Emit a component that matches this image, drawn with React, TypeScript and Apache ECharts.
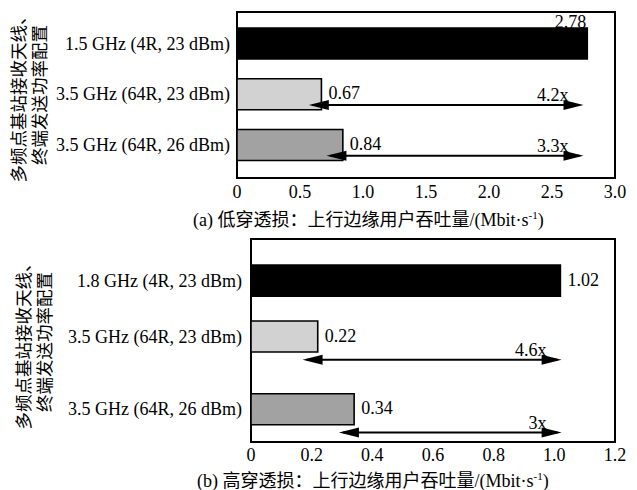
import React, { useEffect, useRef } from "react";
import * as echarts from "echarts";

// ---------- data ----------
const topCategories = ["1.5 GHz (4R, 23 dBm)", "3.5 GHz (64R, 23 dBm)", "3.5 GHz (64R, 26 dBm)"];
const topValues = [2.78, 0.67, 0.84];
const topArrowFrom = [0.57, 0.71];
const topArrowTo = [2.75, 2.75];
const topArrowRows = [1, 2];
const topArrowLabels = ["4.2x", "3.3x"];
const topTitle = "(a) 低穿透损：上行边缘用户吞吐量/(Mbit·s";

const bottomCategories = ["1.8 GHz (4R, 23 dBm)", "3.5 GHz (64R, 23 dBm)", "3.5 GHz (64R, 26 dBm)"];
const bottomValues = [1.02, 0.22, 0.34];
const bottomArrowFrom = [0.17, 0.29];
const bottomArrowTo = [1.024, 1.024];
const bottomArrowRows = [1, 2];
const bottomArrowLabels = ["4.6x", "3x"];
const bottomTitle = "(b) 高穿透损：上行边缘用户吞吐量/(Mbit·s";

const yAxisName = "多频点基站接收天线、\n终端发送功率配置";

// ---------- layout / style ----------
const topRowPos = [0, 1, 2];
const bottomRowPos = [0, 1, 2.3];
const barColors = ["#000000", "#d2d2d2", "#a2a2a2"];
const SERIF = "'Liberation Serif', 'Times New Roman', 'Noto Sans CJK SC', serif";
const MIXED = "'Liberation Serif', 'Noto Sans CJK SC', serif";

function barRender(values: number[], abovePlacement: boolean[]) {
  return (params: any, api: any) => {
    const v = api.value(0);
    const r = api.value(1);
    const idx = api.value(2);
    const p0 = api.coord([0, r]);
    const p1 = api.coord([v, r]);
    const h = 31;
    const label = abovePlacement[idx]
      ? {
          type: "text",
          x: p1[0] - 1,
          y: p0[1] - h / 2 + 3,
          style: { text: v.toFixed(2), fill: "#000", font: `18px ${SERIF}`, align: "right", verticalAlign: "bottom" },
        }
      : {
          type: "text",
          x: p1[0] + 7,
          y: p1[1] - 1,
          style: { text: v.toFixed(2), fill: "#000", font: `18px ${SERIF}`, align: "left", verticalAlign: "middle" },
        };
    return {
      type: "group",
      children: [
        {
          type: "rect",
          shape: { x: p0[0], y: p0[1] - h / 2, width: p1[0] - p0[0], height: h },
          style: { fill: barColors[idx], stroke: "#000", lineWidth: 1.6 },
        },
        label,
      ],
    };
  };
}

function arrowRender(offsetPx: number, labels: string[]) {
  return (params: any, api: any) => {
    const from = api.value(0);
    const to = api.value(1);
    const r = api.value(2);
    const idx = api.value(3);
    const a = api.coord([from, r]);
    const b = api.coord([to, r]);
    const y = a[1] + offsetPx;
    const L = 20;
    const w = 5;
    return {
      type: "group",
      children: [
        { type: "line", shape: { x1: a[0] + 4, y1: y, x2: b[0] - 4, y2: y }, style: { stroke: "#000", lineWidth: 2 } },
        { type: "polygon", shape: { points: [[a[0], y], [a[0] + L, y - w], [a[0] + L, y + w]] }, style: { fill: "#000" } },
        { type: "polygon", shape: { points: [[b[0], y], [b[0] - L, y - w], [b[0] - L, y + w]] }, style: { fill: "#000" } },
        {
          type: "text",
          x: b[0] - 15,
          y: y - 1,
          style: { text: labels[idx], fill: "#000", font: `18px ${SERIF}`, align: "right", verticalAlign: "bottom" },
        },
      ],
    };
  };
}

function xAxisCfg(gridIndex: number, max: number, interval: number, margin: number) {
  return {
    type: "value",
    gridIndex,
    min: 0,
    max,
    interval,
    axisLine: { show: false },
    axisTick: { show: true, inside: true, length: 5, lineStyle: { color: "#000", width: 1.5 } },
    splitLine: { show: false },
    axisLabel: {
      color: "#000",
      fontSize: 18,
      fontFamily: SERIF,
      margin,
      formatter: (v: number) => (v === 0 ? "0" : v.toFixed(1)),
    },
  };
}

function yAxisCfg(gridIndex: number, min: number, max: number, rowPos: number[], cats: string[], margin: number) {
  return {
    type: "value",
    gridIndex,
    inverse: true,
    min,
    max,
    axisLine: { show: false },
    axisTick: { show: false },
    splitLine: { show: false },
    axisLabel: {
      customValues: rowPos,
      color: "#000",
      fontSize: 18,
      fontFamily: SERIF,
      margin,
      formatter: (v: number) => {
        let best = 0;
        rowPos.forEach((p, i) => {
          if (Math.abs(p - v) < Math.abs(rowPos[best] - v)) best = i;
        });
        return cats[best];
      },
    },
  };
}

function titleText(x: number, y: number, text: string) {
  return {
    type: "text",
    x,
    y,
    style: {
      text: `{a|${text}}{s|-1}{a|)}`,
      fill: "#000",
      verticalAlign: "middle",
      rich: {
        a: { fontSize: 18, fontFamily: MIXED, color: "#000", lineHeight: 22 },
        s: { fontSize: 11, fontFamily: SERIF, color: "#000", verticalAlign: "top", lineHeight: 22, padding: [0, 0, 8, 0] },
      },
    },
  };
}

function yNameText(x: number, y: number) {
  return {
    type: "text",
    x,
    y,
    rotation: Math.PI / 2,
    style: {
      text: yAxisName,
      fill: "#000",
      font: `17.5px 'Noto Sans CJK SC', serif`,
      align: "center",
      verticalAlign: "middle",
      lineHeight: 21,
    },
  };
}

export default function App() {
  const ref = useRef<HTMLDivElement>(null);
  useEffect(() => {
    if (!ref.current) return;
    const chart = echarts.init(ref.current, undefined, { renderer: "svg" });
    const topBarData = topValues.map((v, i) => [v, topRowPos[i], i]);
    const bottomBarData = bottomValues.map((v, i) => [v, bottomRowPos[i], i]);
    const topArrowData = topArrowFrom.map((f, i) => [f, topArrowTo[i], topRowPos[topArrowRows[i]], i]);
    const bottomArrowData = bottomArrowFrom.map((f, i) => [f, bottomArrowTo[i], bottomRowPos[bottomArrowRows[i]], i]);

    chart.setOption({
      animation: false,
      backgroundColor: "#fff",
      grid: [
        { left: 237, top: 12, width: 378, height: 166, show: true, borderColor: "#000", borderWidth: 2, backgroundColor: "transparent" },
        { left: 251, top: 239, width: 364, height: 203, show: true, borderColor: "#000", borderWidth: 2, backgroundColor: "transparent" },
      ],
      xAxis: [xAxisCfg(0, 3, 0.5, 5), xAxisCfg(1, 1.2, 0.2, 4)],
      yAxis: [
        yAxisCfg(0, -0.621, 2.649, topRowPos, topCategories, 7),
        yAxisCfg(1, -0.744, 2.885, bottomRowPos, bottomCategories, 9),
      ],
      series: [
        {
          type: "custom",
          xAxisIndex: 0,
          yAxisIndex: 0,
          renderItem: barRender(topValues, [true, false, false]),
          data: topBarData,
          z: 2,
        },
        {
          type: "custom",
          xAxisIndex: 0,
          yAxisIndex: 0,
          renderItem: arrowRender(10.7, topArrowLabels),
          data: topArrowData,
          z: 3,
        },
        {
          type: "custom",
          xAxisIndex: 1,
          yAxisIndex: 1,
          renderItem: barRender(bottomValues, [false, false, false]),
          data: bottomBarData,
          z: 2,
        },
        {
          type: "custom",
          xAxisIndex: 1,
          yAxisIndex: 1,
          renderItem: arrowRender(23.3, bottomArrowLabels),
          data: bottomArrowData,
          z: 3,
        },
      ],
      graphic: [
        yNameText(27.5, 95),
        yNameText(33, 342),
        titleText(193, 220, topTitle),
        titleText(197, 481, bottomTitle),
      ],
    });
    return () => chart.dispose();
  }, []);
  return <div ref={ref} style={{ position: "fixed", left: 0, top: 0, width: 637, height: 490 }} />;
}
